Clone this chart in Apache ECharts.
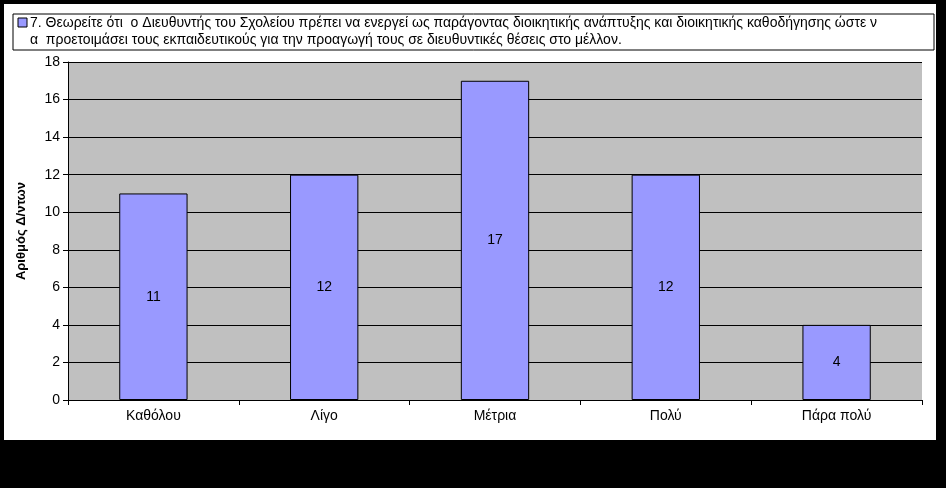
<!DOCTYPE html><html><head><meta charset="utf-8"><script src="https://cdn.jsdelivr.net/npm/echarts@6/dist/echarts.min.js"></script>
<style>html,body{margin:0;background:#000}#c{width:946px;height:488px}</style></head><body><div id="c"></div><script>
const categories=['Καθόλου','Λίγο','Μέτρια','Πολύ','Πάρα πολύ'];
const values=[11,12,17,12,4];
const line1='7. Θεωρείτε ότι  ο Διευθυντής του Σχολείου πρέπει να ενεργεί ως παράγοντας διοικητικής ανάπτυξης και διοικητικής καθοδήγησης ώστε ν';
const line2='α  προετοιμάσει τους εκπαιδευτικούς για την προαγωγή τους σε διευθυντικές θέσεις στο μέλλον.';
const ch=echarts.init(document.getElementById('c'));
const f='Arial, "Liberation Sans", sans-serif';
ch.setOption({backgroundColor:'#000',animation:false,
graphic:[
{type:'rect',z:-10,shape:{x:4,y:4,width:932,height:436},style:{fill:'#fff'}},
{type:'rect',shape:{x:13,y:14,width:921,height:36},style:{fill:'#fff',stroke:'#000',lineWidth:1}},
{type:'rect',shape:{x:18,y:18,width:9,height:9},style:{fill:'#9999ff',stroke:'#000',lineWidth:1}},
{type:'text',x:30,y:16,style:{text:line1,font:'14px '+f,fill:'#000'}},
{type:'text',x:30,y:33,style:{text:line2,font:'14px '+f,fill:'#000'}}
],
grid:{left:68,right:24,top:62,bottom:88},
xAxis:{type:'category',data:categories,axisLine:{lineStyle:{color:'#000'}},axisTick:{show:true,lineStyle:{color:'#000'}},axisLabel:{color:'#000',fontFamily:f,fontSize:14,margin:9}},
yAxis:{type:'value',min:0,max:18,interval:2,name:'Αριθμός Δ/ντων',nameLocation:'middle',nameGap:40,nameTextStyle:{color:'#000',fontWeight:'bold',fontFamily:f,fontSize:13},
axisLine:{show:true,lineStyle:{color:'#000'}},axisTick:{show:true,lineStyle:{color:'#000'}},axisLabel:{color:'#000',fontFamily:f,fontSize:14},
splitLine:{lineStyle:{color:'#000'}},splitArea:{show:true,areaStyle:{color:['#c0c0c0','#c0c0c0']}}},
series:[{type:'bar',data:values,barWidth:'40%',itemStyle:{color:'#9999ff',borderColor:'#000',borderWidth:1},
label:{show:true,position:'inside',color:'#000',fontFamily:f,fontSize:14}}]
});
</script></body></html>
